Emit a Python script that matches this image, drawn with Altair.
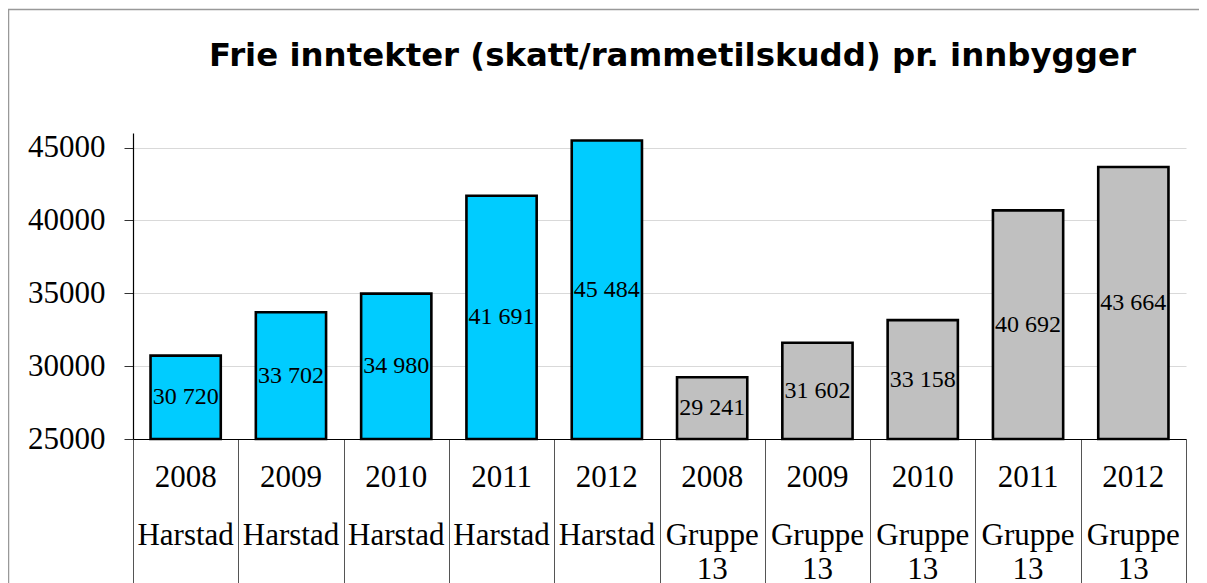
import altair as alt
import pandas as pd

years = ["2008", "2009", "2010", "2011", "2012", "2008", "2009", "2010", "2011", "2012"]
groups = ["Harstad"] * 5 + ["Gruppe 13"] * 5
values = [30720, 33702, 34980, 41691, 45484, 29241, 31602, 33158, 40692, 43664]
y_ticks = [25000, 30000, 35000, 40000, 45000]
title_text = "Frie inntekter (skatt/rammetilskudd) pr. innbygger"

df = pd.DataFrame({
    "key": [f"{g} {y}" for g, y in zip(groups, years)],
    "year": years,
    "group": groups,
    "value": values,
})
order = list(df["key"])

W, H = 1053, 306
SERIF = "Liberation Serif"

xenc = alt.X(
    "key:N", sort=order, title=None,
    scale=alt.Scale(paddingInner=0, paddingOuter=0),
    axis=alt.Axis(labels=False, grid=False, tickBand="extent", tickSize=150, tickColor="#555555",
                  tickWidth=1, domainColor="#000000", domainWidth=1.2),
)

base = alt.Chart(df)

bars = base.mark_bar(width=alt.RelativeBandSize(0.667), stroke="black", strokeWidth=2.6).encode(
    x=xenc,
    y=alt.Y("value:Q", title=None,
            scale=alt.Scale(domain=[25000, 46000], nice=False, zero=False),
            axis=alt.Axis(values=y_ticks, format="d", labelFont=SERIF, labelFontSize=31,
                          labelColor="black", labelPadding=19, tickSize=9, tickColor="#333333",
                          domainColor="#000000", domainWidth=1.2, grid=True, gridColor="#D9D9D9")),
    y2=alt.datum(25000),
    color=alt.Color("group:N", legend=None,
                    scale=alt.Scale(domain=["Harstad", "Gruppe 13"], range=["#00CCFF", "#C0C0C0"])),
)

labels = base.transform_calculate(
    mid="(datum.value + 25000) / 2",
    lab="replace(format(datum.value, ','), ',', ' ')",
).mark_text(font=SERIF, fontSize=24, color="black", baseline="middle").encode(
    x=alt.X("key:N", sort=order),
    y=alt.Y("mid:Q"),
    text="lab:N",
)

year_row = base.mark_text(font=SERIF, fontSize=31, color="black", baseline="alphabetic").encode(
    x=alt.X("key:N", sort=order),
    y=alt.value(H + 48),
    text="year:N",
)

name_row = base.mark_text(font=SERIF, fontSize=31, color="black", baseline="alphabetic",
                          lineBreak=" ", lineHeight=34).encode(
    x=alt.X("key:N", sort=order),
    y=alt.value(H + 106),
    text="group:N",
)

one = alt.Data(values=[{"t": title_text}])

border = alt.Chart(one).mark_rect(
    fill=None, stroke="#999999", strokeWidth=1.5
).encode(
    x=alt.value(-124.5), x2=alt.value(W + 40),
    y=alt.value(-123.5), y2=alt.value(H + 200),
)

title = alt.Chart(one).mark_text(
    font="DejaVu Sans", fontSize=32.4, fontWeight="bold", color="black",
    baseline="alphabetic", align="center"
).encode(
    x=alt.value(W / 2 + 13), y=alt.value(-67), text="t:N",
)

chart = alt.layer(border, title, bars, labels, year_row, name_row).properties(
    width=W, height=H,
    autosize=alt.AutoSizeParams(type="none"),
    padding={"left": 125, "top": 125, "right": 13, "bottom": 144},
).configure_view(stroke=None)

chart.save("out.html", embed_options={"renderer": "svg", "actions": False})
